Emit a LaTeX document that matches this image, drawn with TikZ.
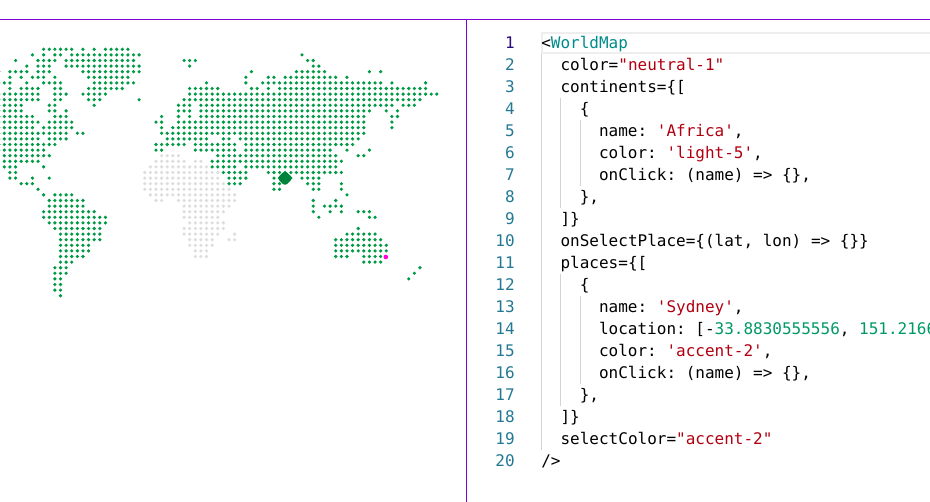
\documentclass[tikz,border=0pt]{standalone}
\usepackage{fontspec}
\setmonofont{DejaVu Sans Mono}
\usetikzlibrary{shapes.geometric,positioning}

\definecolor{landgreen}{HTML}{009A44}
\definecolor{africagray}{HTML}{DEDEDE}
\definecolor{placepink}{HTML}{FF00E0}
\definecolor{framepurple}{HTML}{8000D8}
\definecolor{guidegray}{HTML}{D3D3D3}
\definecolor{activegray}{HTML}{EEEEEE}
\definecolor{numberteal}{HTML}{237893}
\definecolor{numberactive}{HTML}{2B0A80}
\definecolor{tagteal}{HTML}{008B8B}
\definecolor{stringred}{HTML}{B00010}
\definecolor{numbergreen}{HTML}{009966}

\newcommand{\codestr}[1]{\textcolor{stringred}{#1}}
\newcommand{\codenum}[1]{\textcolor{numbergreen}{#1}}
\newcommand{\codetag}[1]{\textcolor{tagteal}{#1}}

\begin{document}
\begin{tikzpicture}
            [
                x=0.75pt, y=-0.75pt,
                frameline/.style={draw=framepurple, line width=0.75pt},
                guideline/.style={draw=guidegray, line width=0.75pt},
                codetext/.style={anchor=base west, inner sep=0pt, font=\ttfamily\fontsize{12}{14}\selectfont},
                linenum/.style={anchor=base east, inner sep=0pt, text=numberteal, font=\ttfamily\fontsize{12}{14}\selectfont},
                selectedmark/.style={diamond, fill=landgreen!85!black, rounded corners=2.5pt, inner sep=0pt, minimum size=12pt},
            ]

            \useasboundingbox (0,0) rectangle (930,502);

            \draw[frameline] (0,19.5) -- (930,19.5);
            \draw[frameline] (466.5,19.5) -- (466.5,502);

            %% AFRICA DOTS
            \foreach \r/\a/\b in {19/29/32,20/28/33,20/35/36,21/27/37,22/26/39,23/26/39,24/26/40,25/26/41,
                26/27/42,27/28/29,27/32/42,28/33/41,29/33/40,30/33/39,31/34/40,32/33/40,33/33/39,33/42/42,
                34/34/38,34/41/42,35/34/38,36/35/37,37/35/37}
            {
                \foreach \c in {\a,...,\b}
                {
                    \fill[africagray] ({4.33+5.617*(\c-1)},{49.3+5.6*\r}) circle (1.8);
                }
            }

            %% WORLD DOTS
            \foreach \r/\a/\b in {0/8/13,0/15/15,0/17/17,0/19/23,
                1/6/6,1/8/8,1/10/11,1/13/25,1/54/54,
                2/3/3,2/7/10,2/12/24,2/33/35,2/55/56,
                3/5/5,3/7/9,3/12/25,3/34/34,3/56/57,
                4/0/0,4/2/5,4/7/9,4/15/25,4/45/45,4/53/58,4/66/66,4/68/68,
                5/2/2,5/4/4,5/6/8,5/10/10,5/16/23,5/44/44,5/48/49,5/51/60,5/62/62,
                6/0/2,6/5/5,6/8/11,6/17/24,6/37/37,6/44/44,6/47/68,6/70/70,6/76/76,
                7/2/2,7/4/7,7/10/11,7/16/22,7/34/39,7/45/46,7/48/48,7/50/76,
                8/0/7,8/10/12,8/15/19,8/34/78,
                9/0/7,9/10/11,9/16/18,9/25/25,9/33/75,
                10/0/4,10/9/10,10/17/17,10/32/34,10/36/70,10/72/74,
                11/0/4,11/9/10,11/12/12,11/32/34,11/36/66,11/69/69,11/71/71,
                12/0/6,12/10/12,12/29/29,12/32/32,12/34/34,12/36/65,12/70/71,
                13/0/7,13/9/13,13/28/29,13/32/65,13/70/70,
                14/0/6,14/8/13,14/29/29,14/31/65,14/70/70,
                15/0/12,15/14/15,15/29/65,
                16/0/7,16/9/12,16/30/37,16/40/41,16/43/64,
                17/0/10,17/28/33,17/35/42,17/44/63,
                18/0/8,18/28/29,18/35/42,18/44/59,18/62/62,18/66/66,
                19/1/9,19/39/60,19/64/65,
                20/1/7,20/38/61,
                21/1/3,21/8/8,21/38/42,21/44/60,
                22/2/3,22/40/44,22/48/61,
                23/2/3,23/6/6,23/9/9,23/41/44,23/49/52,23/54/57,
                24/4/6,24/41/43,24/49/50,24/55/57,24/61/61,
                25/7/7,25/49/50,25/56/57,25/61/61,
                26/8/8,26/10/13,26/62/62,
                27/9/15,27/56/56,27/60/60,
                28/9/15,28/56/56,28/58/61,
                29/8/17,29/56/56,29/59/59,29/61/61,29/64/66,
                30/8/19,30/57/57,30/66/67,
                31/9/19,
                32/10/18,32/64/64,
                33/11/18,33/62/67,
                34/11/18,34/60/68,
                35/11/16,35/60/69,
                36/11/16,36/60/69,
                37/11/15,37/60/62,37/65/68,
                38/11/13,38/65/68,
                39/10/12,39/75/75,
                40/10/12,40/74/74,
                41/10/11,41/73/73,
                42/10/11,43/10/11,44/11/11}
            {
                \foreach \c in {\a,...,\b}
                {
                    \fill[landgreen] ({4.33+5.617*(\c-1)},{49.3+5.6*\r}) circle (1.8);
                }
            }

            %% PLACES
            \fill[placepink] (385.8,257) circle (2.3);
            \node[selectedmark] (selected) at (285,178.3) {};

            %% CODE PANE
            \draw[draw=activegray, line width=1.5pt] (541.5,33) rectangle (935,53);
            \draw[guideline] (541.5,54) -- (541.5,450);
            \draw[guideline] (560.5,98) -- (560.5,208);
            \draw[guideline] (580.5,120) -- (580.5,186);
            \draw[guideline] (560.5,274) -- (560.5,406);
            \draw[guideline] (580.5,296) -- (580.5,384);

            \node[linenum, text=numberactive] (num1) at (515,48.4) {1};
            \foreach \n in {2,...,20}
            {
                \node[linenum] (num\n) at (515,{48.4+22*(\n-1)}) {\n};
            }

            \node[codetext] (line1) at (541,48.4) {<\codetag{WorldMap}};
            \node[codetext] (line2) at (560.3,70.4) {color=\codestr{"neutral-1"}};
            \node[codetext] (line3) at (560.3,92.4) {continents=\{[};
            \node[codetext] (line4) at (579.5,114.4) {\{};
            \node[codetext] (line5) at (598.8,136.4) {name: \codestr{'Africa'},};
            \node[codetext] (line6) at (598.8,158.4) {color: \codestr{'light-5'},};
            \node[codetext] (line7) at (598.8,180.4) {onClick: (name) => \{\},};
            \node[codetext] (line8) at (579.5,202.4) {\},};
            \node[codetext] (line9) at (560.3,224.4) {]\}};
            \node[codetext] (line10) at (560.3,246.4) {onSelectPlace=\{(lat, lon) => \{\}\}};
            \node[codetext] (line11) at (560.3,268.4) {places=\{[};
            \node[codetext] (line12) at (579.5,290.4) {\{};
            \node[codetext] (line13) at (598.8,312.4) {name: \codestr{'Sydney'},};
            \node[codetext] (line14) at (598.8,334.4) {location: [-\codenum{33.8830555556}, \codenum{151.2166}};
            \node[codetext] (line15) at (598.8,356.4) {color: \codestr{'accent-2'},};
            \node[codetext] (line16) at (598.8,378.4) {onClick: (name) => \{\},};
            \node[codetext] (line17) at (579.5,400.4) {\},};
            \node[codetext] (line18) at (560.3,422.4) {]\}};
            \node[codetext] (line19) at (560.3,444.4) {selectColor=\codestr{"accent-2"}};
            \node[codetext] (line20) at (541,466.4) {/>};
\end{tikzpicture}
\end{document}
